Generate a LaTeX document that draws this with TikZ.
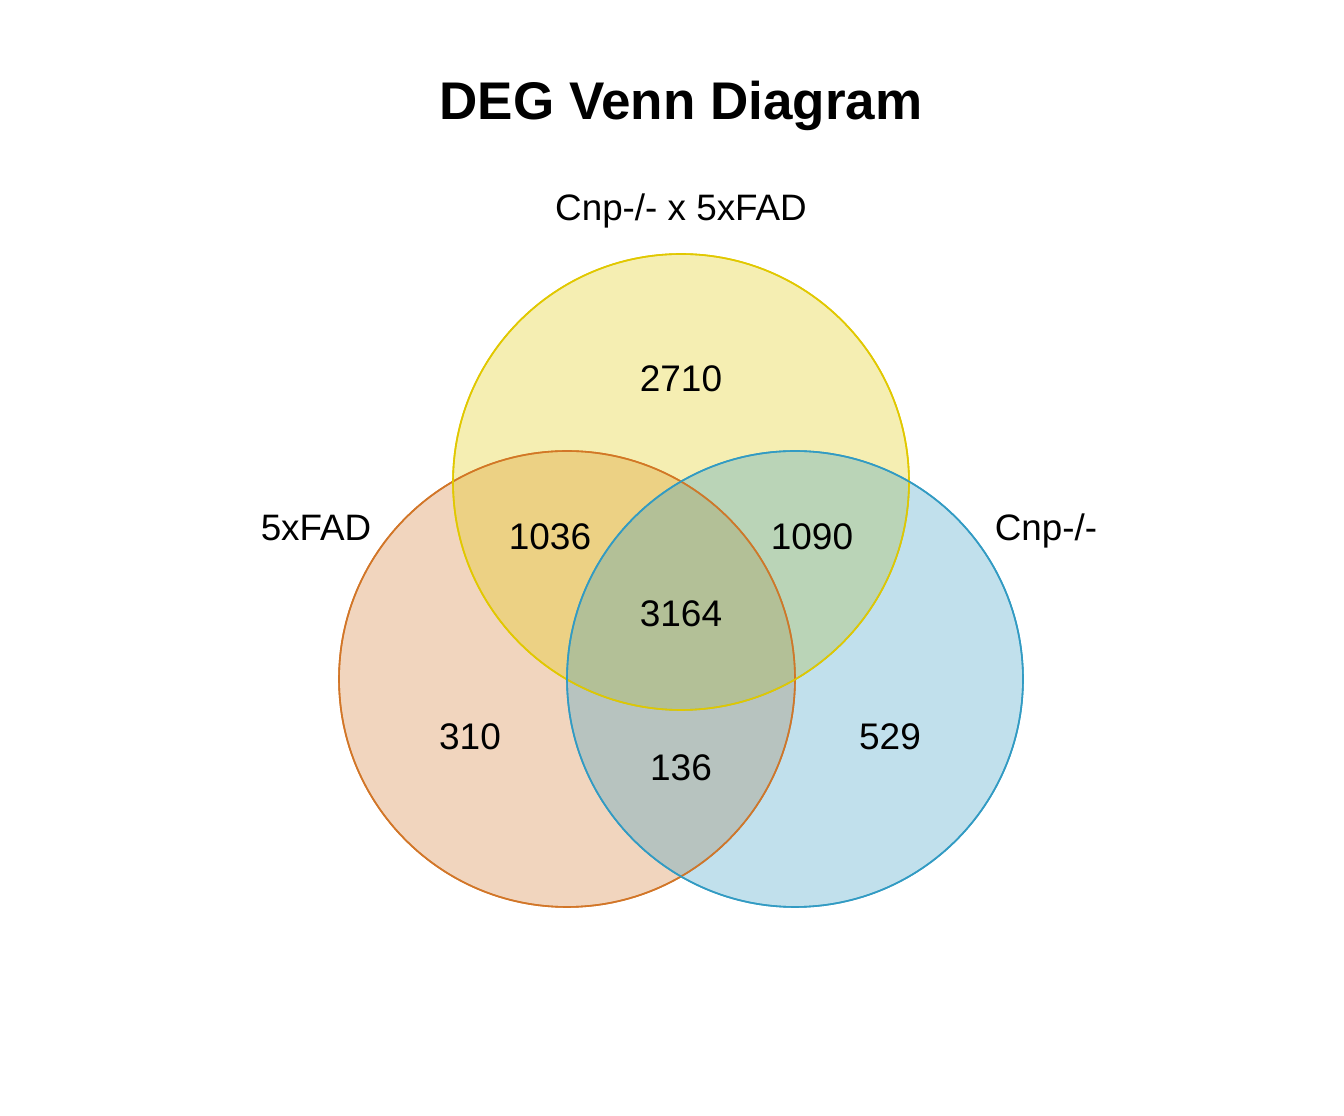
\documentclass[tikz,border=0pt]{standalone}
\usepackage{fontspec}
\setmainfont{Liberation Sans}
\definecolor{cOrange}{RGB}{210,118,40}
\definecolor{cYellow}{RGB}{225,200,0}
\definecolor{cBlue}{RGB}{50,155,195}
\begin{document}
\begin{tikzpicture}[x=1pt,y=1pt,
  setcirc/.style={circle,minimum size=456pt,inner sep=0pt,line width=1.6pt,fill opacity=0.3,draw opacity=1},
  title/.style={font=\fontsize{53}{58}\selectfont\bfseries,anchor=base,inner sep=0pt},
  setlabel/.style={font=\fontsize{36.8}{42}\selectfont,anchor=base,inner sep=0pt},
  num/.style={font=\fontsize{37}{42}\selectfont,anchor=base,inner sep=0pt}]
\useasboundingbox (0,0) rectangle (1344,1116);
\fill[white] (0,0) rectangle (1344,1116);
% circles
\node[setcirc,draw=cOrange,fill=cOrange] (A) at (567,437) {};
\node[setcirc,draw=cYellow,fill=cYellow] (B) at (681,634) {};
\node[setcirc,draw=cBlue,fill=cBlue] (C) at (795,437) {};
% redraw borders on top
\draw[cOrange,line width=1.6pt] (A.center) circle (228);
\draw[cYellow,line width=1.6pt] (B.center) circle (228);
\draw[cBlue,line width=1.6pt] (C.center) circle (228);
% texts
\node[title] (t) at (681,996) {DEG Venn Diagram};
\node[setlabel] (lB) at (681,895) {Cnp-/- x 5xFAD};
\node[setlabel] (lA) at (316,575) {5xFAD};
\node[setlabel] (lC) at (1046,575) {Cnp-/-};
\node[num] (n1) at (681,724.5) {2710};
\node[num] (n2) at (550,566) {1036};
\node[num] (n3) at (812,566) {1090};
\node[num] (n4) at (681,489) {3164};
\node[num] (n5) at (470,366) {310};
\node[num] (n6) at (681,335) {136};
\node[num] (n7) at (890,366) {529};
\end{tikzpicture}
\end{document}
